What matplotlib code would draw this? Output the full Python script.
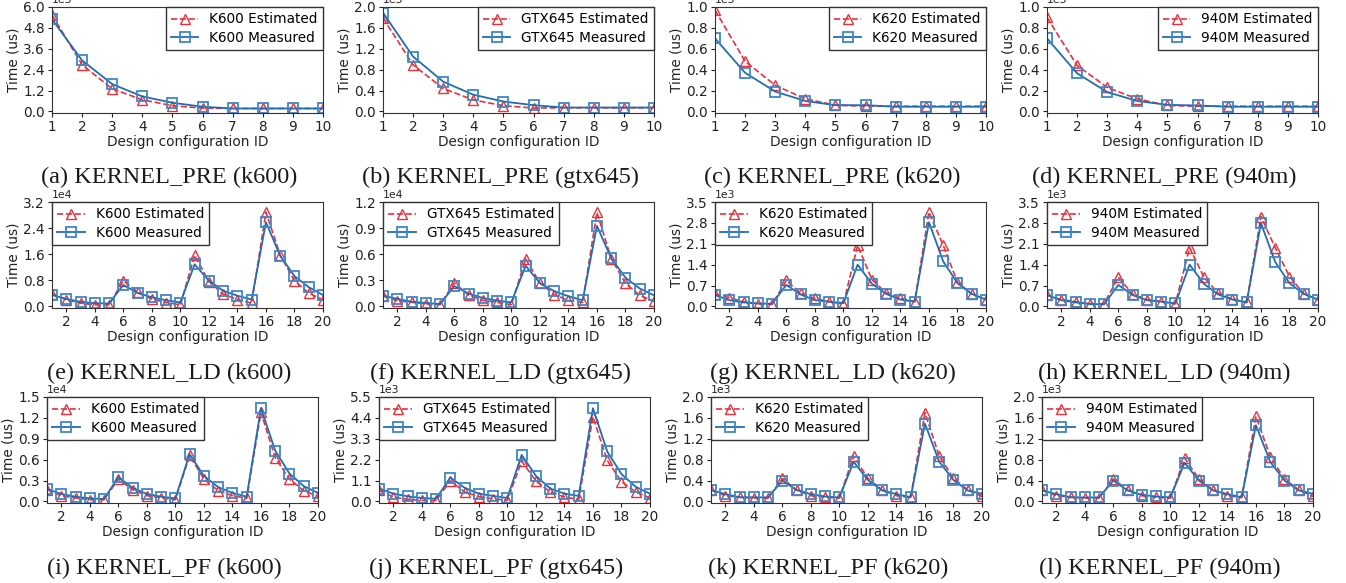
import matplotlib
matplotlib.use('Agg')
import matplotlib.pyplot as plt
import numpy as np

# design configuration IDs
ids_pre = list(range(1, 11))
ids_20 = list(range(1, 21))

# KERNEL_PRE (us)
pre_k600_est = [5550, 2680, 1300, 670, 330, 190, 170, 170, 170, 170]
pre_k600_meas = [5300, 2930, 1570, 860, 500, 270, 170, 170, 170, 170]
pre_gtx645_est = [1790, 890, 440, 220, 110, 65, 70, 70, 70, 70]
pre_gtx645_meas = [1890, 1050, 570, 320, 190, 120, 75, 75, 75, 75]
pre_k620_est = [970, 480, 250, 120, 60, 50, 50, 50, 50, 50]
pre_k620_meas = [700, 370, 190, 100, 60, 60, 45, 45, 45, 45]
pre_940m_est = [900, 440, 230, 120, 57, 50, 50, 50, 50, 50]
pre_940m_meas = [700, 365, 185, 100, 63, 57, 45, 45, 45, 45]

# KERNEL_LD (us)
ld_k600_est = [3800, 2100, 1000, 500, 500, 7900, 4400, 2300, 1200, 500,
               15700, 7600, 3800, 2100, 1000, 28900, 15700, 7900, 4100, 2000]
ld_k600_meas = [3500, 2300, 1400, 1000, 900, 6600, 4100, 2800, 1900, 1200,
                12900, 7900, 4800, 3300, 2100, 25800, 15500, 9300, 5900, 3500]
ld_gtx645_est = [1200, 660, 470, 300, 200, 2700, 1300, 700, 470, 200,
                 5450, 2700, 1360, 700, 470, 10800, 5500, 2650, 1280, 580]
ld_gtx645_meas = [1250, 860, 550, 400, 270, 2340, 1480, 970, 660, 470,
                  4670, 2700, 1750, 1170, 700, 9270, 5530, 3300, 2060, 1280]
ld_k620_est = [410, 290, 160, 90, 70, 870, 440, 270, 160, 80,
               2050, 900, 450, 270, 160, 3160, 2050, 810, 420, 230]
ld_k620_meas = [380, 210, 135, 100, 90, 720, 400, 210, 160, 110,
                1400, 760, 420, 230, 160, 2820, 1510, 780, 420, 230]
ld_940m_est = [380, 230, 160, 90, 90, 980, 410, 230, 160, 90,
               1970, 980, 440, 250, 135, 3010, 1970, 1000, 430, 230]
ld_940m_meas = [380, 210, 135, 80, 70, 720, 380, 210, 160, 100,
                1400, 760, 400, 230, 135, 2790, 1490, 780, 420, 230]

# KERNEL_PF (us)
pf_k600_est = [1700, 830, 500, 250, 250, 3200, 1700, 830, 540, 250,
               6600, 3200, 1560, 830, 440, 12800, 6300, 3200, 1560, 730]
pf_k600_meas = [1800, 1070, 680, 440, 340, 3500, 1950, 1070, 680, 440,
                6800, 3660, 2050, 1220, 680, 13400, 7300, 4000, 2200, 1220]
pf_gtx645_est = [580, 230, 110, 50, 50, 1080, 500, 250, 140, 50,
                 2120, 1080, 500, 230, 110, 4460, 2160, 1040, 500, 180]
pf_gtx645_meas = [680, 410, 270, 180, 140, 1260, 720, 410, 290, 180,
                  2450, 1350, 680, 410, 290, 4910, 2630, 1440, 770, 410]
pf_k620_est = [220, 110, 80, 65, 65, 440, 220, 110, 80, 65,
               870, 440, 220, 110, 76, 1700, 870, 440, 220, 95]
pf_k620_meas = [220, 140, 80, 80, 76, 400, 220, 140, 95, 76,
                760, 410, 210, 140, 80, 1490, 760, 410, 210, 146]
pf_940m_est = [220, 110, 80, 65, 65, 430, 220, 110, 76, 65,
               830, 430, 220, 110, 76, 1630, 860, 430, 220, 95]
pf_940m_meas = [210, 140, 80, 76, 76, 400, 210, 127, 95, 76,
                740, 400, 210, 140, 80, 1460, 760, 400, 210, 146]

gpus = ['K600', 'GTX645', 'K620', '940M']
gpu_tags = ['k600', 'gtx645', 'k620', '940m']
kernels = ['KERNEL_PRE', 'KERNEL_LD', 'KERNEL_PF']
letters = 'abcdefghijkl'

panels = [
    [(pre_k600_est, pre_k600_meas), (pre_gtx645_est, pre_gtx645_meas),
     (pre_k620_est, pre_k620_meas), (pre_940m_est, pre_940m_meas)],
    [(ld_k600_est, ld_k600_meas), (ld_gtx645_est, ld_gtx645_meas),
     (ld_k620_est, ld_k620_meas), (ld_940m_est, ld_940m_meas)],
    [(pf_k600_est, pf_k600_meas), (pf_gtx645_est, pf_gtx645_meas),
     (pf_k620_est, pf_k620_meas), (pf_940m_est, pf_940m_meas)],
]

# y-axis top and tick step per panel (us)
ytop = [[6000, 2000, 1000, 1000],
        [32000, 12000, 3500, 3500],
        [15000, 5500, 2000, 2000]]
ystep = [[1200, 400, 200, 200],
         [8000, 3000, 700, 700],
         [3000, 1100, 400, 400]]

W, H = 1346, 583
fig = plt.figure(figsize=(W / 100, H / 100), dpi=100)

# axes placement in pixels
lefts = [[52, 383, 715, 1047], [52, 383, 715, 1047], [47, 379, 711, 1042]]
tops = [7, 202, 397]
aw, ah = 271, 106
cap_y = [177, 373, 568]

red = '#ec2f3a'
blue = '#1f6db3'
fs = 9.8

for r in range(3):
    for c in range(4):
        est, meas = panels[r][c]
        x = ids_pre if r == 0 else ids_20
        ax = fig.add_axes([lefts[r][c] / W, 1 - (tops[r] + ah) / H, aw / W, ah / H])
        ax.plot(x, est, '--', color=red, marker='^', mfc='none', mec=red,
                ms=7, mew=1.0, lw=1.2, label=gpus[c] + ' Estimated')
        ax.plot(x, meas, '-', color=blue, marker='s', mfc='none', mec='#3f86c8',
                ms=7.5, mew=1.3, lw=1.3, label=gpus[c] + ' Measured')
        top = ytop[r][c]
        ax.set_ylim(-0.015 * top, top)
        ax.set_yticks(np.arange(0, top + 1e-6, ystep[r][c]))
        if r == 0:
            ax.set_xlim(1, 10)
            ax.set_xticks(ids_pre)
        else:
            ax.set_xlim(1, 20)
            ax.set_xticks(range(2, 21, 2))
        ax.ticklabel_format(axis='y', style='sci', scilimits=(0, 0))
        ax.yaxis.get_offset_text().set_fontsize(fs - 2)
        ax.tick_params(labelsize=fs, length=3, pad=2, colors='#222222')
        ax.set_xlabel('Design configuration ID', fontsize=fs, labelpad=1, color='#222222')
        ax.set_ylabel('Time (us)', fontsize=fs, labelpad=2, color='#222222')
        for sp in ax.spines.values():
            sp.set_color('#333333')
        leg = ax.legend(loc='upper right' if r == 0 else 'upper left', fontsize=fs,
                        fancybox=False, edgecolor='#333333', framealpha=1,
                        borderaxespad=0.0, borderpad=0.4, labelspacing=0.3,
                        handletextpad=0.8)
        leg.get_frame().set_linewidth(1.0)
        cx = lefts[r][c] + aw / 2 - 18
        fig.text(cx / W, 1 - cap_y[r] / H,
                 '(%s) %s (%s)' % (letters[r * 4 + c], kernels[r], gpu_tags[c]),
                 family='Liberation Serif', fontsize=17.5, ha='center', va='center',
                 color='#1a1a1a')

fig.savefig('out.png', dpi=100)
